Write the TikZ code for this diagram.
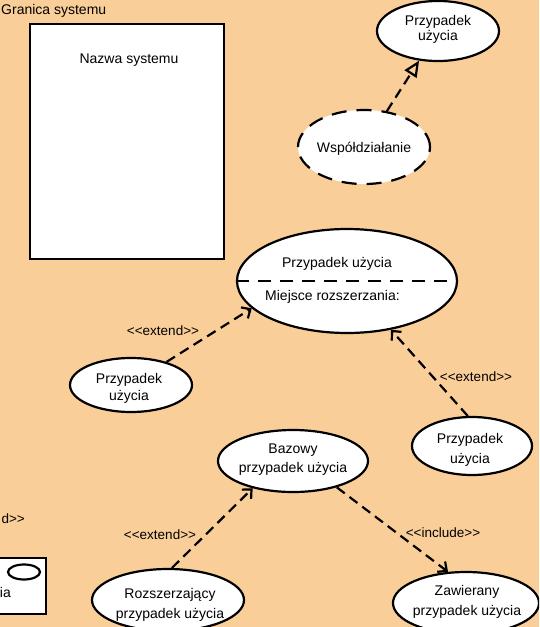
\documentclass[tikz,border=0pt]{standalone}
\usepackage{fontspec}
\setmainfont{Liberation Sans}
\usetikzlibrary{shapes.geometric,arrows.meta}
\definecolor{bg}{RGB}{249,206,153}
\begin{document}
\begin{tikzpicture}[x=1pt,y=-1pt,
  uc/.style={ellipse, draw, line width=2.2pt, fill=white, inner sep=0pt},
  txt/.style={font=\fontsize{14}{17}\selectfont, inner sep=0pt, anchor=base},
  lbl/.style={font=\fontsize{13.5}{16}\selectfont, inner sep=0pt, anchor=base},
  dep/.style={line width=2.2pt, dash pattern=on 10pt off 6pt, -{Straight Barb[length=7pt,width=13pt]}},
  gen/.style={line width=2.2pt, dash pattern=on 10pt off 6pt, -{Triangle[open,length=16pt,width=14pt]}}]
\fill[bg] (0,0) rectangle (539,627);
\useasboundingbox (0,0) rectangle (539,627);
\clip (0,0) rectangle (539,627);

% system boundary
\node[txt, anchor=base west] (gr) at (1,14) {Granica systemu};
\node[draw, line width=2.4pt, fill=white, minimum width=194pt, minimum height=235pt, inner sep=0pt, anchor=north west] (sys) at (29,23) {};
\node[txt] (sysname) at (129,63) {Nazwa systemu};

% top-right use case and collaboration
\node[uc, minimum width=122pt, minimum height=60pt] (uc1) at (438,31) {};
\node[txt] (uc1a) at (438,25) {Przypadek};
\node[txt] (uc1b) at (438,40) {użycia};
\node[uc, dash pattern=on 15pt off 10pt, minimum width=132pt, minimum height=74pt] (wsp) at (364,147) {};
\node[txt] (wspt) at (364,152) {Współdziałanie};
\draw[gen] (wsp) -- (uc1);

% extension point use case
\node[uc, minimum width=220pt, minimum height=104pt] (big) at (347,281) {};
\draw[line width=2.2pt, dash pattern=on 13pt off 9pt] (big.west) -- (big.east);
\node[txt] (biga) at (337,267) {Przypadek użycia};
\node[txt, anchor=base west] (bigb) at (265,300) {Miejsce rozszerzania:};

\node[uc, minimum width=122pt, minimum height=54pt] (ucL) at (131,385) {};
\node[txt] (ucLa) at (129,383) {Przypadek};
\node[txt] (ucLb) at (129,400) {użycia};
\node[uc, minimum width=120pt, minimum height=58pt] (ucR) at (472,446) {};
\node[txt] (ucRa) at (470,443) {Przypadek};
\node[txt] (ucRb) at (470,463) {użycia};
\draw[dep] (ucL.33) -- (big.-164);
\draw[dep] (ucR.98) -- (big.-48);
\node[lbl] (e1) at (163,335) {<{}<extend>{}>};
\node[lbl] (e2) at (476,381) {<{}<extend>{}>};

% base / extending / included
\node[uc, minimum width=150pt, minimum height=62pt] (baz) at (293,461) {};
\node[txt] (baza) at (293,453) {Bazowy};
\node[txt] (bazb) at (293,472) {przypadek użycia};
\node[uc, minimum width=152pt, minimum height=62pt] (roz) at (168,600) {};
\node[txt] (roza) at (170,598) {Rozszerzający};
\node[txt] (rozb) at (170,618) {przypadek użycia};
\node[uc, minimum width=146pt, minimum height=62pt] (zaw) at (466,603) {};
\node[txt] (zawa) at (467,595) {Zawierany};
\node[txt] (zawb) at (467,615) {przypadek użycia};
\draw[dep] (roz.83) -- (baz.-146);
\draw[dep] (baz.-31) -- (zaw.120);
\node[lbl] (e3) at (160,539) {<{}<extend>{}>};
\node[lbl] (inc) at (443,537) {<{}<include>{}>};

% partially visible items at the left edge
\node[lbl, anchor=base east] (pd) at (25,523) {d>{}>};
\node[draw, line width=2.2pt, fill=white, minimum width=60pt, minimum height=56pt, inner sep=0pt, anchor=north east] (pbox) at (47,557) {};
\node[ellipse, draw, line width=2.2pt, minimum width=32pt, minimum height=15pt, inner sep=0pt] (pel) at (24,572) {};
\node[txt, anchor=base east] (pia) at (11,597) {ia};
\end{tikzpicture}
\end{document}
